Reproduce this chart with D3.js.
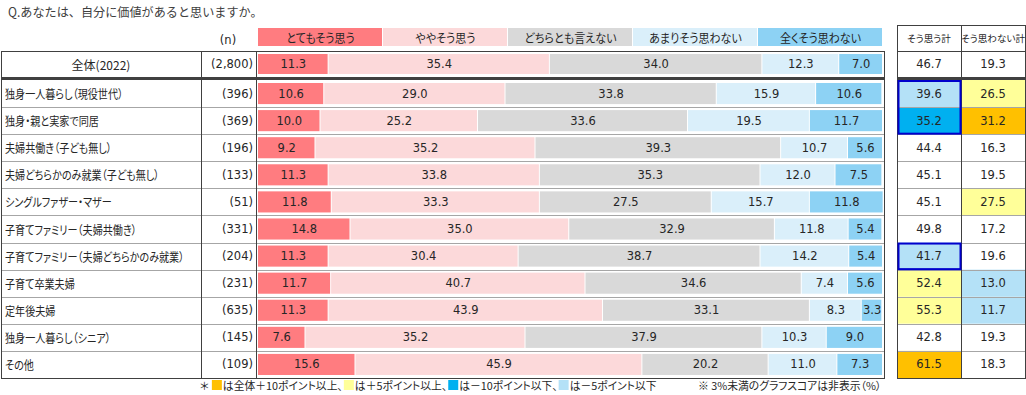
<!DOCTYPE html>
<html>
<head>
<meta charset="utf-8">
<script src="https://cdn.jsdelivr.net/npm/d3@7"></script>
<style>
  body { margin: 0; background: #fff; }
  svg { display: block; }
  .jp { font-family: "Noto Sans CJK JP", sans-serif; font-feature-settings: "palt"; }
  .num { font-family: "DejaVu Sans", sans-serif; }
</style>
</head>
<body>
<svg id="chart" width="1026" height="395"></svg>
<script>
// Data
const title = "Q.あなたは、自分に価値があると思いますか。"
const answers = ["とてもそう思う", "ややそう思う", "どちらとも言えない", "あまりそう思わない", "全くそう思わない"]
const categories = [
  "全体(2022)",
  "独身一人暮らし（現役世代）",
  "独身・親と実家で同居",
  "夫婦共働き（子ども無し）",
  "夫婦どちらかのみ就業（子ども無し）",
  "シングルファザー・マザー",
  "子育てファミリー（夫婦共働き）",
  "子育てファミリー（夫婦どちらかのみ就業）",
  "子育て卒業夫婦",
  "定年後夫婦",
  "独身一人暮らし（シニア）",
  "その他"
]
const nCounts = [2800, 396, 369, 196, 133, 51, 331, 204, 231, 635, 145, 109]
const veryMuch = [11.3, 10.6, 10.0, 9.2, 11.3, 11.8, 14.8, 11.3, 11.7, 11.3, 7.6, 15.6]
const somewhat = [35.4, 29.0, 25.2, 35.2, 33.8, 33.3, 35.0, 30.4, 40.7, 43.9, 35.2, 45.9]
const neutral  = [34.0, 33.8, 33.6, 39.3, 35.3, 27.5, 32.9, 38.7, 34.6, 33.1, 37.9, 20.2]
const notMuch  = [12.3, 15.9, 19.5, 10.7, 12.0, 15.7, 11.8, 14.2, 7.4, 8.3, 10.3, 11.0]
const notAtAll = [7.0, 10.6, 11.7, 5.6, 7.5, 11.8, 5.4, 5.4, 5.6, 3.3, 9.0, 7.3]
const agreeTotal    = [46.7, 39.6, 35.2, 44.4, 45.1, 45.1, 49.8, 41.7, 52.4, 55.3, 42.8, 61.5]
const disagreeTotal = [19.3, 26.5, 31.2, 16.3, 19.5, 27.5, 17.2, 19.6, 13.0, 11.7, 19.3, 18.3]
const tableHeads = ["そう思う計", "そう思わない計"]
const outlinedRows = [[1, 2], [7, 7]]   // blue framed cells in そう思う計
const footLegend = ["は全体＋10ポイント以上、", "は＋5ポイント以上、", "は－10ポイント以下、", "は－5ポイント以下"]
const footNote = "※ 3%未満のグラフスコアは非表示（%）"

// Styles
const seriesColors = ["#ff7c80", "#fcd9da", "#d9d9d9", "#daeffa", "#8dd2f4"]
const textColor = "#262626"
const lineDark = "#404040"
const lineGray = "#a6a6a6"
const hlColors = { up10: "#ffc000", up5: "#ffff99", down10: "#00b0f0", down5: "#b4e1f7" }
const footColors = [hlColors.up10, hlColors.up5, hlColors.down10, hlColors.down5]

const svg = d3.select("#chart")
const series = [veryMuch, somewhat, neutral, notMuch, notAtAll]

// squeeze CJK text a little, the original font is narrower than Noto
function squeeze(sel, k) {
  sel.each(function() {
    const len = this.getComputedTextLength()
    d3.select(this).attr("textLength", len * k).attr("lengthAdjust", "spacingAndGlyphs")
  })
}

// Scales
const x = d3.scaleLinear().domain([0, 100]).range([258, 883])
const yBand = d3.scaleBand().domain(d3.range(1, categories.length)).range([80, 378])
const rowTop = i => i === 0 ? 51 : yBand(i)
const rowH = i => i === 0 ? 26 : yBand.bandwidth()

const rows = categories.map((c, i) => ({ name: c, i: i, values: series.map(s => s[i]) }))
const stacked = d3.stack().keys(d3.range(series.length)).value((d, k) => d.values[k])(rows)

// Title
svg.append("text").attr("x", 8).attr("y", 17)
  .style("font-family", '"Noto Sans CJK JP", sans-serif')
  .attr("font-size", 12.5).attr("fill", "#404040").text(title)
  .call(squeeze, 0.97)

// Legend
const legW = (x(100) - x(0)) / answers.length
const legend = svg.append("g")
answers.forEach((a, k) => {
  legend.append("rect").attr("x", x(0) + k * legW).attr("y", 28)
    .attr("width", legW - 1).attr("height", 18).attr("fill", seriesColors[k])
  legend.append("text").attr("class", "jp")
    .attr("x", x(0) + k * legW + legW / 2).attr("y", 37.5)
    .attr("text-anchor", "middle").attr("dominant-baseline", "central")
    .attr("font-size", 12).attr("fill", textColor).text(a)
    .call(squeeze, 0.92)
})

svg.append("text").attr("class", "num").attr("x", 228).attr("y", 44)
  .attr("text-anchor", "middle").attr("font-size", 11.5).attr("fill", textColor).text("(n)")

// Bars
const barG = svg.append("g")
stacked.forEach((layer, k) => {
  barG.selectAll(null).data(layer).enter().append("rect")
    .attr("x", d => x(d[0]))
    .attr("y", d => rowTop(d.data.i) + 3)
    .attr("width", d => Math.max(0, x(d[1]) - x(d[0]) - 1))
    .attr("height", d => rowH(d.data.i) - 6)
    .attr("fill", seriesColors[k])
  barG.selectAll(null).data(layer.filter(d => d[1] - d[0] >= 3)).enter().append("text")
    .attr("class", "num")
    .attr("x", d => (x(d[0]) + x(d[1])) / 2)
    .attr("y", d => rowTop(d.data.i) + rowH(d.data.i) / 2)
    .attr("text-anchor", "middle").attr("dominant-baseline", "central")
    .attr("font-size", 11.5).attr("fill", textColor)
    .text(d => d3.format(".1f")(d[1] - d[0]))
})

// Row labels and n
rows.forEach(r => {
  const cy = rowTop(r.i) + rowH(r.i) / 2
  svg.append("text").attr("class", "jp")
    .attr("x", r.i === 0 ? 101 : 5).attr("y", cy)
    .attr("text-anchor", r.i === 0 ? "middle" : "start")
    .attr("dominant-baseline", "central")
    .attr("font-size", 12).attr("fill", textColor).text(r.name)
    .call(squeeze, r.i === 0 ? 1 : 0.84)
  svg.append("text").attr("class", "num")
    .attr("x", 253).attr("y", cy)
    .attr("text-anchor", "end").attr("dominant-baseline", "central")
    .attr("font-size", 11.5).attr("fill", textColor)
    .text("(" + d3.format(",")(nCounts[r.i]) + ")")
})

// Right table
const colX = [897, 961, 1025]
const hl = (v, base) => {
  const d = Math.round((v - base) * 10) / 10
  if (d >= 10) return hlColors.up10
  if (d >= 5) return hlColors.up5
  if (d <= -10) return hlColors.down10
  if (d <= -5) return hlColors.down5
  return "#fff"
}
const cols = [agreeTotal, disagreeTotal]
cols.forEach((col, c) => {
  svg.append("text").attr("class", "jp")
    .attr("x", (colX[c] + colX[c + 1]) / 2).attr("y", 38)
    .attr("text-anchor", "middle").attr("dominant-baseline", "central")
    .attr("font-size", 9.6).attr("fill", textColor).text(tableHeads[c])
  col.forEach((v, i) => {
    svg.append("rect").attr("x", colX[c]).attr("y", rowTop(i))
      .attr("width", colX[c + 1] - colX[c]).attr("height", rowH(i))
      .attr("fill", i === 0 ? "#fff" : hl(v, col[0]))
    svg.append("text").attr("class", "num")
      .attr("x", (colX[c] + colX[c + 1]) / 2).attr("y", rowTop(i) + rowH(i) / 2)
      .attr("text-anchor", "middle").attr("dominant-baseline", "central")
      .attr("font-size", 11.5).attr("fill", textColor).text(d3.format(".1f")(v))
  })
})

// Grid lines
const lines = svg.append("g").attr("fill", "none")
const hLine = (y, x1, x2, color, w) => lines.append("line")
  .attr("x1", x1).attr("x2", x2).attr("y1", y).attr("y2", y)
  .attr("stroke", color).attr("stroke-width", w)
const vLine = (xx, y1, y2, color, w) => lines.append("line")
  .attr("x1", xx).attr("x2", xx).attr("y1", y1).attr("y2", y2)
  .attr("stroke", color).attr("stroke-width", w)

d3.range(2, categories.length).forEach(i => {
  hLine(Math.round(rowTop(i)) + 0.5, 1, 885, lineGray, 1)
  hLine(Math.round(rowTop(i)) + 0.5, colX[0], colX[2], lineGray, 1)
})
hLine(51.5, 1, 885, lineDark, 1)
hLine(78.5, 1, 885, lineDark, 3)
hLine(378.5, 1, 885, lineDark, 1)
;[1.5, 201.5, 256.5, 884.5].forEach(xx => vLine(xx, 51, 379, lineDark, 1))

hLine(25.5, colX[0], colX[2], lineDark, 1)
hLine(51.5, colX[0], colX[2], lineDark, 1)
hLine(78.5, colX[0], colX[2], lineDark, 3)
hLine(378.5, colX[0], colX[2], lineDark, 1)
colX.forEach(xx => vLine(xx + 0.5, 25, 379, lineDark, 1))

outlinedRows.forEach(([a, b]) => {
  lines.append("rect")
    .attr("x", colX[0] + 1.5).attr("y", rowTop(a) + 1)
    .attr("width", colX[1] - colX[0] - 2).attr("height", rowTop(b) + rowH(b) - rowTop(a) - 1.5)
    .attr("stroke", "#0000cc").attr("stroke-width", 2)
})

// Footer: laid out piece by piece
const foot = svg.append("g").attr("class", "jp").attr("font-size", 10.8).attr("fill", textColor)
let fx = 200
const star = foot.append("text").attr("x", fx).attr("y", 390).text("＊")
fx += star.node().getComputedTextLength() + 3
footLegend.forEach((t, k) => {
  foot.append("rect").attr("x", fx).attr("y", 380).attr("width", 10).attr("height", 10)
    .attr("fill", footColors[k])
  fx += 11
  const tt = foot.append("text").attr("x", fx).attr("y", 390).text(t)
  fx += tt.node().getComputedTextLength() + 1
})
foot.append("text").attr("x", 698).attr("y", 390).text(footNote)
</script>
</body>
</html>
